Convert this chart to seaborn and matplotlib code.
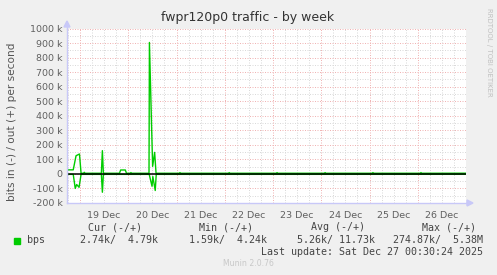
import matplotlib
matplotlib.use("Agg")
import matplotlib.pyplot as plt
import seaborn as sns
import pandas as pd
import numpy as np

# ---- data (hours relative to 19 Dec 00:00, values in kbit/s) ----
out_hours = [-6.5, -3.4, -2.0, -0.3, 0.5, 1.7, 2.1, 2.5, 10.6, 11.1, 11.6,
             19.6, 20.2, 22.5, 23.1, 24.9, 25.3, 25.7, 34.3, 34.5, 36.1, 37.1, 37.8,
             49.3, 49.7, 50.1, 73.8, 74.2, 74.6, 97.6, 98.0, 98.4,
             121.5, 121.9, 122.3, 145.3, 145.7, 146.1, 169.2, 169.6, 170.0, 192.3]
out_kbps = [28, 28, 125, 137, 4.5, 4.5, 11, 4.5, 4.5, 160, 4.5,
            4.5, 27, 27, 4.5, 4.5, 9, 4.5, 4.5, 904, 52, 148, 4.5,
            4.5, 9, 4.5, 4.5, 9, 4.5, 4.5, 9, 4.5,
            4.5, 9, 4.5, 4.5, 9, 4.5, 4.5, 9, 4.5, 4.8]
in_hours = [-6.5, -3.4, -2.4, -1.7, -0.5, 0.5, 10.6, 11.1, 11.6,
            34.4, 35.8, 36.2, 37.4, 37.9, 192.3]
in_kbps = [-3, -3, -100, -73, -92, -3, -3, -126, -3,
           -3, -85, -18, -114, -3, -2.7]

day_labels = ["19 Dec", "20 Dec", "21 Dec", "22 Dec", "23 Dec", "24 Dec", "25 Dec", "26 Dec"]
ytick_vals = [-200, -100, 0, 100, 200, 300, 400, 500, 600, 700, 800, 900, 1000]
ytick_labels = ["-200 k", "-100 k", "0", "100 k", "200 k", "300 k", "400 k", "500 k",
                "600 k", "700 k", "800 k", "900 k", "1000 k"]

legend_cols = ["Cur (-/+)", "Min (-/+)", "Avg (-/+)", "Max (-/+)"]
legend_vals = ["2.74k/  4.79k", "1.59k/  4.24k", "5.26k/ 11.73k", "274.87k/  5.38M"]
series_name = "bps"
title = "fwpr120p0 traffic - by week"
ylabel = "bits in (-) / out (+) per second"
last_update = "Last update: Sat Dec 27 00:30:24 2025"
version = "Munin 2.0.76"
side_text = "RRDTOOL / TOBI OETIKER"

# ---- figure ----
sns.set_style("white")
plt.rcParams['font.family'] = ['DejaVu Sans']
W, H = 497, 275
fig = plt.figure(figsize=(W / 100, H / 100), dpi=100, facecolor="#F0F0F0")
x0, x1, ytop, ybot = 67, 466, 28.5, 203
ax = fig.add_axes([x0 / W, 1 - ybot / H, (x1 - x0) / W, (ybot - ytop) / H])
ax.set_facecolor("white")

xmin, xmax = -6.5, 192.0
ymin, ymax = -200, 1000
ax.set_xlim(xmin, xmax)
ax.set_ylim(ymin, ymax)

px = 0.72  # 1 pixel in points
minor_c = "#DADADA"
major_c = "#F0B4B4"
# grid lines
for h in np.arange(-6, 193, 6):
    if h % 24 == 0:
        continue
    ax.axvline(h, color=minor_c, lw=px, ls=(0, (1, 1.5)), zorder=1)
for v in np.arange(-150, 1000, 100):
    ax.axhline(v, color=minor_c, lw=px, ls=(0, (1, 1.5)), zorder=1)
for h in np.arange(0, 193, 24):
    ax.axvline(h, color=major_c, lw=px, ls=(0, (1, 1.5)), zorder=1.5)
for v in ytick_vals[1:]:
    ax.axhline(v, color=major_c, lw=px, ls=(0, (1, 1.5)), zorder=1.5)

df_out = pd.DataFrame({"h": out_hours, "v": out_kbps})
df_in = pd.DataFrame({"h": in_hours, "v": in_kbps})
sns.lineplot(data=df_in, x="h", y="v", ax=ax, color="#00CC00", lw=1.0, zorder=3)
sns.lineplot(data=df_out, x="h", y="v", ax=ax, color="#00CC00", lw=1.0, zorder=3)
ax.axhline(0, color="black", lw=1.1, zorder=4)

# ticks
ax.set_xticks([12 + 24 * i for i in range(len(day_labels))])
ax.set_xticklabels(day_labels)
ax.set_yticks(ytick_vals)
ax.set_yticklabels(ytick_labels)
ax.tick_params(axis="both", length=0, labelsize=6.8, colors="#606060", pad=3)
ax.tick_params(axis="x", pad=6)
ax.set_xlabel("")
ax.set_ylabel("")

for s in ["top", "right"]:
    ax.spines[s].set_visible(False)
axis_c = "#C8C8F8"
ax.spines["left"].set_color(axis_c)
ax.spines["bottom"].set_color(axis_c)
ax.spines["left"].set_linewidth(1.0)
ax.spines["bottom"].set_linewidth(1.0)
ax.spines["left"].set_zorder(5)
# arrows
fig.patches.append(plt.Polygon([[(x0 - 3) / W, 1 - 27 / H], [(x0 + 3) / W, 1 - 27 / H],
                                [x0 / W, 1 - 21 / H]], closed=True, transform=fig.transFigure,
                               color=axis_c, figure=fig))
fig.patches.append(plt.Polygon([[467 / W, 1 - 200 / H], [467 / W, 1 - 206 / H],
                                [473 / W, 1 - 203 / H]], closed=True, transform=fig.transFigure,
                               color=axis_c, figure=fig))
fig.lines.append(plt.Line2D([x0 / W, x0 / W], [1 - ytop / H, 1 - 24 / H], transform=fig.transFigure,
                            color=axis_c, lw=1.0))
fig.lines.append(plt.Line2D([x1 / W, 468 / W], [1 - ybot / H, 1 - ybot / H], transform=fig.transFigure,
                            color=axis_c, lw=1.0))

# title / labels
fig.text(248 / W, 1 - 18 / H, title, ha="center", va="center", fontsize=9, color="#333333")
fig.text(12 / W, 1 - 122 / H, ylabel, ha="center", va="center", rotation=90, fontsize=7.6, color="#555555")
fig.text(489 / W, 1 - 52 / H, side_text, ha="center", va="center", rotation=270, fontsize=5,
         color="#C0C0C0")

mono = "DejaVu Sans Mono"
col_x = [115, 226, 338, 449]
for cx, t in zip(col_x, legend_cols):
    fig.text(cx / W, 1 - 227.5 / H, t, ha="center", va="center", family=mono, fontsize=7.2, color="#444444")
val_right = [158, 267, 375, 483]
for rx, t in zip(val_right, legend_vals):
    fig.text(rx / W, 1 - 240 / H, t, ha="right", va="center", family=mono, fontsize=7.2, color="#444444")
fig.patches.append(plt.Rectangle((14 / W, 1 - 243.5 / H), 6 / W, 6 / H, transform=fig.transFigure,
                                 color="#00CC00", figure=fig))
fig.text(27 / W, 1 - 240 / H, series_name, ha="left", va="center", family=mono, fontsize=7.2, color="#444444")
fig.text(483 / W, 1 - 252 / H, last_update, ha="right", va="center", family=mono, fontsize=7.2,
         color="#444444")
fig.text(248 / W, 1 - 263.5 / H, version, ha="center", va="center", fontsize=5.6, color="#C8C8C8")

fig.savefig("out.png", dpi=100, facecolor=fig.get_facecolor())
